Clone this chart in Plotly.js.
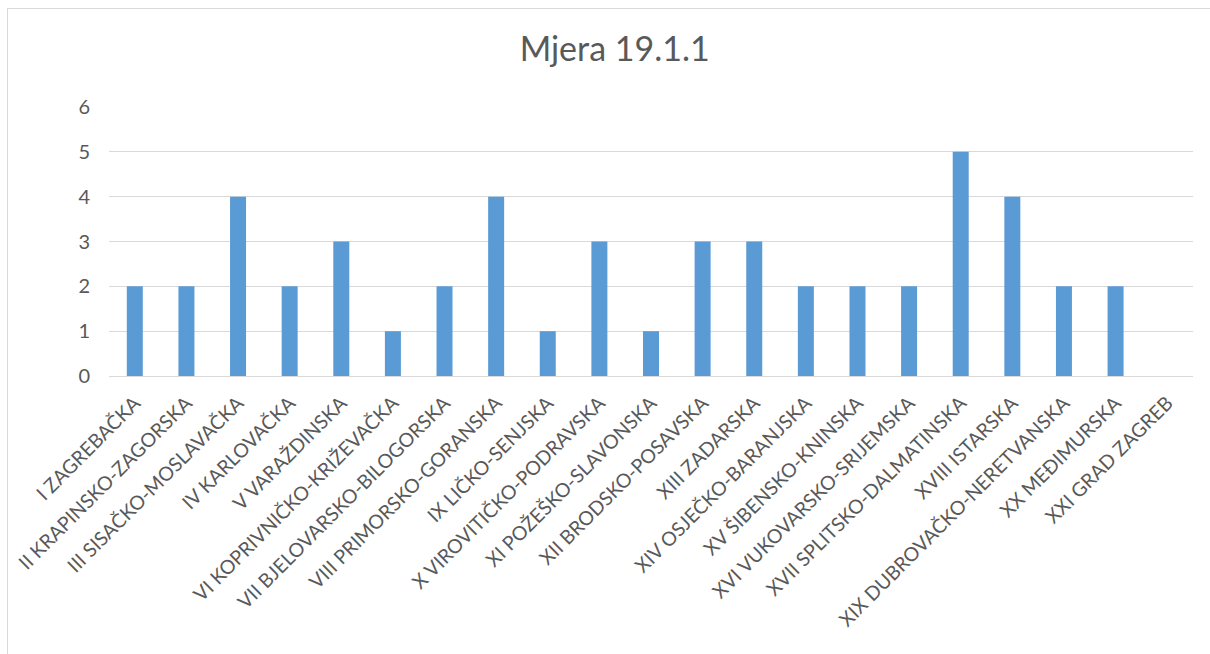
<!DOCTYPE html>
<html>
<head>
<meta charset="utf-8">
<script src="https://cdn.plot.ly/plotly-3.0.1.min.js"></script>
<style>
html,body{margin:0;padding:0;background:#fff;}
#frame{position:absolute;left:7px;top:8px;width:1300px;height:800px;border-left:1px solid #d9d9d9;border-top:1px solid #d9d9d9;}
#chart{position:absolute;left:0;top:0;width:1210px;height:654px;}
</style>
</head>
<body>
<div id="frame"></div>
<div id="chart"></div>
<script>
const categories = [
  "I ZAGREBAČKA","II KRAPINSKO-ZAGORSKA","III SISAČKO-MOSLAVAČKA","IV KARLOVAČKA",
  "V VARAŽDINSKA","VI KOPRIVNIČKO-KRIŽEVAČKA","VII BJELOVARSKO-BILOGORSKA",
  "VIII PRIMORSKO-GORANSKA","IX LIČKO-SENJSKA","X VIROVITIČKO-PODRAVSKA",
  "XI POŽEŠKO-SLAVONSKA","XII BRODSKO-POSAVSKA","XIII ZADARSKA","XIV OSJEČKO-BARANJSKA",
  "XV ŠIBENSKO-KNINSKA","XVI VUKOVARSKO-SRIJEMSKA","XVII SPLITSKO-DALMATINSKA",
  "XVIII ISTARSKA","XIX DUBROVAČKO-NERETVANSKA","XX MEĐIMURSKA","XXI GRAD ZAGREB"
];
const values = [2,2,4,2,3,1,2,4,1,3,1,3,3,2,2,2,5,4,2,2,0];
const yTicks = [0,1,2,3,4,5,6];

const trace = {
  type: 'bar',
  x: categories,
  y: values,
  marker: {color: '#5b9bd5'},
  hoverinfo: 'x+y'
};

const layout = {
  width: 1210, height: 654,
  paper_bgcolor: 'rgba(0,0,0,0)',
  plot_bgcolor: 'rgba(0,0,0,0)',
  margin: {l: 109, r: 17, t: 107, b: 278},
  bargap: 0.69,
  showlegend: false,
  font: {family: 'Lato, "Noto Sans", sans-serif', color: '#595959', size: 19.5},
  title: {text: 'Mjera 19.1.1', x: 0.508, xanchor: 'center', y: 0.925, yanchor: 'middle',
          font: {size: 34, color: '#595959', family: 'Lato, "Noto Sans", sans-serif'}},
  xaxis: {
    type: 'category',
    tickangle: -45,
    showgrid: false,
    showline: true, linecolor: '#d9d9d9', linewidth: 1,
    ticks: '',
    ticklabelstandoff: 7,
    tickfont: {size: 19.5, color: '#595959'},
    automargin: false
  },
  yaxis: {
    range: [0, 6],
    tickvals: yTicks,
    showgrid: true, gridcolor: '#d9d9d9', gridwidth: 1,
    zeroline: false,
    showline: false,
    ticks: '',
    ticklabelstandoff: 18,
    tickfont: {size: 20, color: '#595959'},
    automargin: false
  }
};

Plotly.newPlot('chart', [trace], layout, {displayModeBar: false, staticPlot: true});
</script>
</body>
</html>
